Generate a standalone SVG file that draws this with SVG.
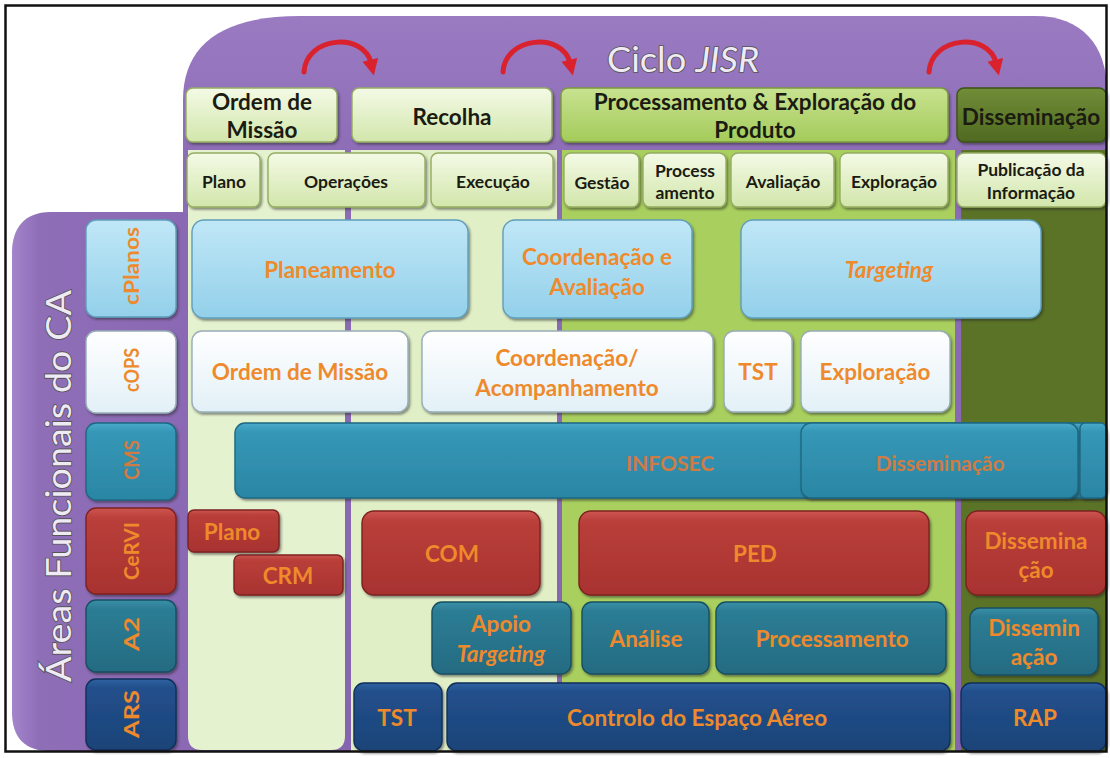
<svg xmlns="http://www.w3.org/2000/svg" width="1110" height="758" viewBox="0 0 1110 758">
  <defs>
    <linearGradient id="gPale" x1="0" y1="0" x2="0" y2="1">
      <stop offset="0" stop-color="#f4fae6"/>
      <stop offset="1" stop-color="#d2e6ab"/>
    </linearGradient>
    <linearGradient id="gLime" x1="0" y1="0" x2="0" y2="1">
      <stop offset="0" stop-color="#c8e290"/>
      <stop offset="1" stop-color="#a4cb5a"/>
    </linearGradient>
    <linearGradient id="gOlive" x1="0" y1="0" x2="0" y2="1">
      <stop offset="0" stop-color="#718d38"/>
      <stop offset="1" stop-color="#4f6a20"/>
    </linearGradient>
    <linearGradient id="gSky" x1="0" y1="0" x2="0" y2="1">
      <stop offset="0" stop-color="#c0e7f7"/>
      <stop offset="1" stop-color="#93d0ea"/>
    </linearGradient>
    <linearGradient id="gWhite" x1="0" y1="0" x2="0" y2="1">
      <stop offset="0" stop-color="#ffffff"/>
      <stop offset="1" stop-color="#e2f0f7"/>
    </linearGradient>
    <linearGradient id="gTeal" x1="0" y1="0" x2="0" y2="1">
      <stop offset="0" stop-color="#4aaaca"/>
      <stop offset="0.12" stop-color="#3597b6"/>
      <stop offset="1" stop-color="#2b86a4"/>
    </linearGradient>
    <linearGradient id="gRed" x1="0" y1="0" x2="0" y2="1">
      <stop offset="0" stop-color="#cd5650"/>
      <stop offset="0.12" stop-color="#b93f3a"/>
      <stop offset="1" stop-color="#a8322f"/>
    </linearGradient>
    <linearGradient id="gSea" x1="0" y1="0" x2="0" y2="1">
      <stop offset="0" stop-color="#3990a8"/>
      <stop offset="0.12" stop-color="#2c7d95"/>
      <stop offset="1" stop-color="#246b82"/>
    </linearGradient>
    <linearGradient id="gNavy" x1="0" y1="0" x2="0" y2="1">
      <stop offset="0" stop-color="#2f61a0"/>
      <stop offset="0.12" stop-color="#22508c"/>
      <stop offset="1" stop-color="#1b4378"/>
    </linearGradient>
    <linearGradient id="gPurpleTop" x1="0" y1="0" x2="0" y2="1">
      <stop offset="0" stop-color="#9a7bc2"/>
      <stop offset="0.2" stop-color="#8d6cb6"/>
      <stop offset="1" stop-color="#8664b0"/>
    </linearGradient>
    <linearGradient id="gPurpleLeft" x1="0" y1="0" x2="1" y2="0">
      <stop offset="0" stop-color="#a385cb"/>
      <stop offset="0.15" stop-color="#8f6eb8"/>
      <stop offset="1" stop-color="#8a68b3"/>
    </linearGradient>
    <filter id="sh" x="-5%" y="-8%" width="112%" height="125%">
      <feDropShadow dx="1.5" dy="2" stdDeviation="1.3" flood-color="#1a1a1a" flood-opacity="0.5"/>
    </filter>
    <marker id="arr" viewBox="0 0 10 10" refX="2" refY="5" markerWidth="3.4" markerHeight="3.2" orient="auto">
      <path d="M0,0 L10,5 L0,10 z" fill="#d9222d"/>
    </marker>
  </defs>

  <style>
    .box { filter: url(#sh); stroke-width: 1.4; }
    .pale { fill: url(#gPale); stroke: #94ad62; }
    .lime { fill: url(#gLime); stroke: #7b9b3d; }
    .olive { fill: url(#gOlive); stroke: #3b5316; }
    .sky { fill: url(#gSky); stroke: #5f9fbb; }
    .white { fill: url(#gWhite); stroke: #98adb8; }
    .teal { fill: url(#gTeal); stroke: #1c6882; }
    .red { fill: url(#gRed); stroke: #7c2220; }
    .sea { fill: url(#gSea); stroke: #174f62; }
    .navy { fill: url(#gNavy); stroke: #112f5a; }
    text { font-family: Lato, "Liberation Sans", sans-serif; font-weight: bold; text-anchor: middle; dominant-baseline: central; }
    .hd { fill: #1b1b12; font-size: 22.5px; }
    .hs { fill: #1b1b12; font-size: 17.5px; }
    .or { fill: #ee8a2b; font-size: 22.5px; }
    .dim { fill: #cf7c44; font-size: 21px; }
    .lab { fill: #ee8a2b; font-size: 20px; }
    .it { font-style: italic; }
    .emb { font-weight: normal; fill: #efeaf5; stroke: #555555; stroke-width: 1.7; paint-order: stroke; }
    .arc { fill: none; stroke: #d9222d; stroke-width: 5; stroke-linecap: round; marker-end: url(#arr); }
  </style>

  <!-- page -->
  <rect x="0" y="0" width="1110" height="758" fill="#ffffff"/>

  <!-- purple backdrops -->
  <g id="backdrop">
    <path d="M183,752 L183,100 C183,45 222,16 300,16 L1035,16 C1082,16 1107,45 1107,92 L1107,752 Z" fill="url(#gPurpleTop)"/>
    <path d="M192,212 L50,212 C25,212 12,228 12,252 L12,712 C12,738 25,751 50,751 L192,751 Z" fill="url(#gPurpleLeft)"/>
  </g>

  <!-- phase columns -->
  <g id="columns">
    <path d="M188,150 L345,150 L345,736 Q345,750 331,750 L202,750 Q188,750 188,736 Z" fill="#e5f2cf"/>
    <rect x="351" y="150" width="206" height="601" fill="#e1efc6"/>
    <rect x="562" y="150" width="393" height="601" fill="#a9cf5e"/>
    <rect x="961" y="150" width="145" height="601" fill="#5b7327"/>
  </g>

  <!-- title -->
  <g id="title">
    <text class="emb" x="683" y="58" font-size="34" textLength="152" lengthAdjust="spacingAndGlyphs">Ciclo <tspan font-style="italic">JISR</tspan></text>
  </g>

  <!-- cycle arrows -->
  <g id="connectors">
    <path class="arc" d="M304,72 C306,36 364,32 371,63"/>
    <path class="arc" d="M503,72 C505,36 563,32 570,63"/>
    <path class="arc" d="M929,72 C931,36 989,32 996,63"/>
  </g>

  <!-- phase headers -->
  <g id="hdr-ordem"><rect class="box pale" x="186" y="88" width="151" height="54" rx="7"/>
    <text class="hd" x="262" y="101">Ordem de</text><text class="hd" x="262" y="129">Missão</text></g>
  <g id="hdr-recolha"><rect class="box pale" x="352" y="88" width="200" height="54" rx="7"/>
    <text class="hd" x="452" y="116">Recolha</text></g>
  <g id="hdr-ped"><rect class="box lime" x="561" y="88" width="387" height="54" rx="7"/>
    <text class="hd" x="755" y="101">Processamento &amp; Exploração do</text><text class="hd" x="755" y="129">Produto</text></g>
  <g id="hdr-dissem"><rect class="box olive" x="957" y="88" width="149" height="54" rx="7"/>
    <text class="hd" x="1031" y="116" font-size="19">Disseminação</text></g>

  <!-- sub-phase headers -->
  <g id="sub-plano"><rect class="box pale" x="187" y="153" width="73" height="54" rx="7"/>
    <text class="hs" x="224" y="181">Plano</text></g>
  <g id="sub-operacoes"><rect class="box pale" x="268" y="153" width="157" height="54" rx="7"/>
    <text class="hs" x="346" y="181">Operações</text></g>
  <g id="sub-execucao"><rect class="box pale" x="431" y="153" width="122" height="54" rx="7"/>
    <text class="hs" x="493" y="181">Execução</text></g>
  <g id="sub-gestao"><rect class="box pale" x="564" y="153" width="75" height="54" rx="7"/>
    <text class="hs" x="602" y="182">Gestão</text></g>
  <g id="sub-processamento"><rect class="box pale" x="643" y="153" width="83" height="54" rx="7"/>
    <text class="hs" x="685" y="170" font-size="16.5">Process</text><text class="hs" x="685" y="192" font-size="16.5">amento</text></g>
  <g id="sub-avaliacao"><rect class="box pale" x="731" y="153" width="103" height="54" rx="7"/>
    <text class="hs" x="783" y="181">Avaliação</text></g>
  <g id="sub-exploracao"><rect class="box pale" x="840" y="153" width="108" height="54" rx="7"/>
    <text class="hs" x="894" y="181">Exploração</text></g>
  <g id="sub-publicacao"><rect class="box pale" x="957" y="153" width="149" height="54" rx="7"/>
    <text class="hs" x="1031" y="169" font-size="18">Publicação da</text><text class="hs" x="1031" y="192" font-size="18">Informação</text></g>

  <!-- functional area panel -->
  <g id="areas">
    <text class="emb" transform="translate(57,486) rotate(-90)" font-size="35" textLength="392" lengthAdjust="spacingAndGlyphs">Áreas Funcionais do CA</text>
  </g>
  <g id="lab-cplanos"><rect class="box sky" x="86" y="220" width="90" height="97" rx="10"/>
    <text class="lab" transform="translate(131,266) rotate(-90)" textLength="78" lengthAdjust="spacingAndGlyphs">cPlanos</text></g>
  <g id="lab-cops"><rect class="box white" x="86" y="331" width="90" height="82" rx="10"/>
    <text class="lab" transform="translate(131,370) rotate(-90)" textLength="44" lengthAdjust="spacingAndGlyphs">cOPS</text></g>
  <g id="lab-cms"><rect class="box teal" x="86" y="423" width="90" height="77" rx="10"/>
    <text class="lab" transform="translate(131,460) rotate(-90)" style="fill:#cf7c44" textLength="40" lengthAdjust="spacingAndGlyphs">CMS</text></g>
  <g id="lab-cervi"><rect class="box red" x="86" y="508" width="90" height="86" rx="10"/>
    <text class="lab" transform="translate(131,551) rotate(-90)" textLength="58" lengthAdjust="spacingAndGlyphs">CeRVI</text></g>
  <g id="lab-a2"><rect class="box sea" x="86" y="600" width="90" height="72" rx="10"/>
    <text class="lab" transform="translate(131,634) rotate(-90)" textLength="34" lengthAdjust="spacingAndGlyphs">A2</text></g>
  <g id="lab-ars"><rect class="box navy" x="86" y="679" width="90" height="71" rx="10"/>
    <text class="lab" transform="translate(131,714) rotate(-90)" font-size="22" textLength="48" lengthAdjust="spacingAndGlyphs">ARS</text></g>

  <!-- cPlanos row -->
  <g id="planeamento"><rect class="box sky" x="192" y="220" width="276" height="98" rx="12"/>
    <text class="or" x="330" y="269">Planeamento</text></g>
  <g id="coord-avaliacao"><rect class="box sky" x="503" y="220" width="189" height="98" rx="12"/>
    <text class="or" x="597" y="256">Coordenação e</text><text class="or" x="597" y="286">Avaliação</text></g>
  <g id="targeting"><rect class="box sky" x="741" y="220" width="300" height="98" rx="12"/>
    <text class="or it" x="889" y="269">Targeting</text></g>

  <!-- cOPS row -->
  <g id="ops-ordem"><rect class="box white" x="192" y="331" width="216" height="81" rx="10"/>
    <text class="or" x="300" y="371">Ordem de Missão</text></g>
  <g id="ops-coord"><rect class="box white" x="422" y="331" width="291" height="81" rx="10"/>
    <text class="or" x="567" y="357">Coordenação/</text><text class="or" x="567" y="387">Acompanhamento</text></g>
  <g id="ops-tst"><rect class="box white" x="724" y="331" width="68" height="81" rx="10"/>
    <text class="or" x="758" y="371">TST</text></g>
  <g id="ops-exploracao"><rect class="box white" x="801" y="331" width="149" height="81" rx="10"/>
    <text class="or" x="875" y="371">Exploração</text></g>

  <!-- CMS row -->
  <g id="infosec"><rect class="box teal" x="235" y="423" width="871" height="75" rx="10"/>
    <text class="dim" x="670" y="462">INFOSEC</text></g>
  <g id="cms-dissem"><rect class="box teal" x="801" y="423" width="277" height="75" rx="10"/>
    <text class="dim" x="940" y="462">Disseminação</text></g>
  <g id="cms-end"><rect class="box teal" x="1080" y="423" width="26" height="75" rx="5"/></g>

  <!-- CeRVI row -->
  <g id="cervi-plano"><rect class="box red" x="188" y="510" width="91" height="42" rx="6"/>
    <text class="or" x="232" y="531" font-size="19.5">Plano</text></g>
  <g id="cervi-crm"><rect class="box red" x="234" y="555" width="109" height="40" rx="6"/>
    <text class="or" x="288" y="575" font-size="19">CRM</text></g>
  <g id="cervi-com"><rect class="box red" x="362" y="511" width="178" height="84" rx="12"/>
    <text class="or" x="452" y="553" font-size="21">COM</text></g>
  <g id="cervi-ped"><rect class="box red" x="579" y="511" width="350" height="84" rx="12"/>
    <text class="or" x="755" y="553" font-size="21">PED</text></g>
  <g id="cervi-dissem"><rect class="box red" x="966" y="511" width="140" height="84" rx="12"/>
    <text class="or" x="1036" y="540" font-size="22">Dissemina</text><text class="or" x="1036" y="569" font-size="22">ção</text></g>

  <!-- A2 row -->
  <g id="a2-apoio"><rect class="box sea" x="432" y="602" width="139" height="72" rx="10"/>
    <text class="or" x="501" y="623" font-size="21">Apoio</text><text class="or it" x="501" y="653" font-size="21">Targeting</text></g>
  <g id="a2-analise"><rect class="box sea" x="582" y="602" width="127" height="72" rx="10"/>
    <text class="or" x="646" y="638">Análise</text></g>
  <g id="a2-processamento"><rect class="box sea" x="716" y="602" width="230" height="72" rx="10"/>
    <text class="or" x="832" y="638">Processamento</text></g>
  <g id="a2-dissem"><rect class="box sea" x="970" y="608" width="128" height="67" rx="10"/>
    <text class="or" x="1034" y="627" font-size="22">Dissemin</text><text class="or" x="1034" y="656" font-size="22">ação</text></g>

  <!-- ARS row -->
  <g id="ars-tst"><rect class="box navy" x="354" y="683" width="88" height="68" rx="10"/>
    <text class="or" x="397" y="717" font-size="21">TST</text></g>
  <g id="ars-controlo"><rect class="box navy" x="447" y="683" width="503" height="68" rx="10"/>
    <text class="or" x="697" y="717">Controlo do Espaço Aéreo</text></g>
  <g id="ars-rap"><rect class="box navy" x="961" y="683" width="145" height="68" rx="10"/>
    <text class="or" x="1035" y="717" font-size="21">RAP</text></g>

  <!-- frame -->
  <rect x="5.5" y="5.5" width="1101" height="746" fill="none" stroke="#111111" stroke-width="2.5"/>
</svg>
